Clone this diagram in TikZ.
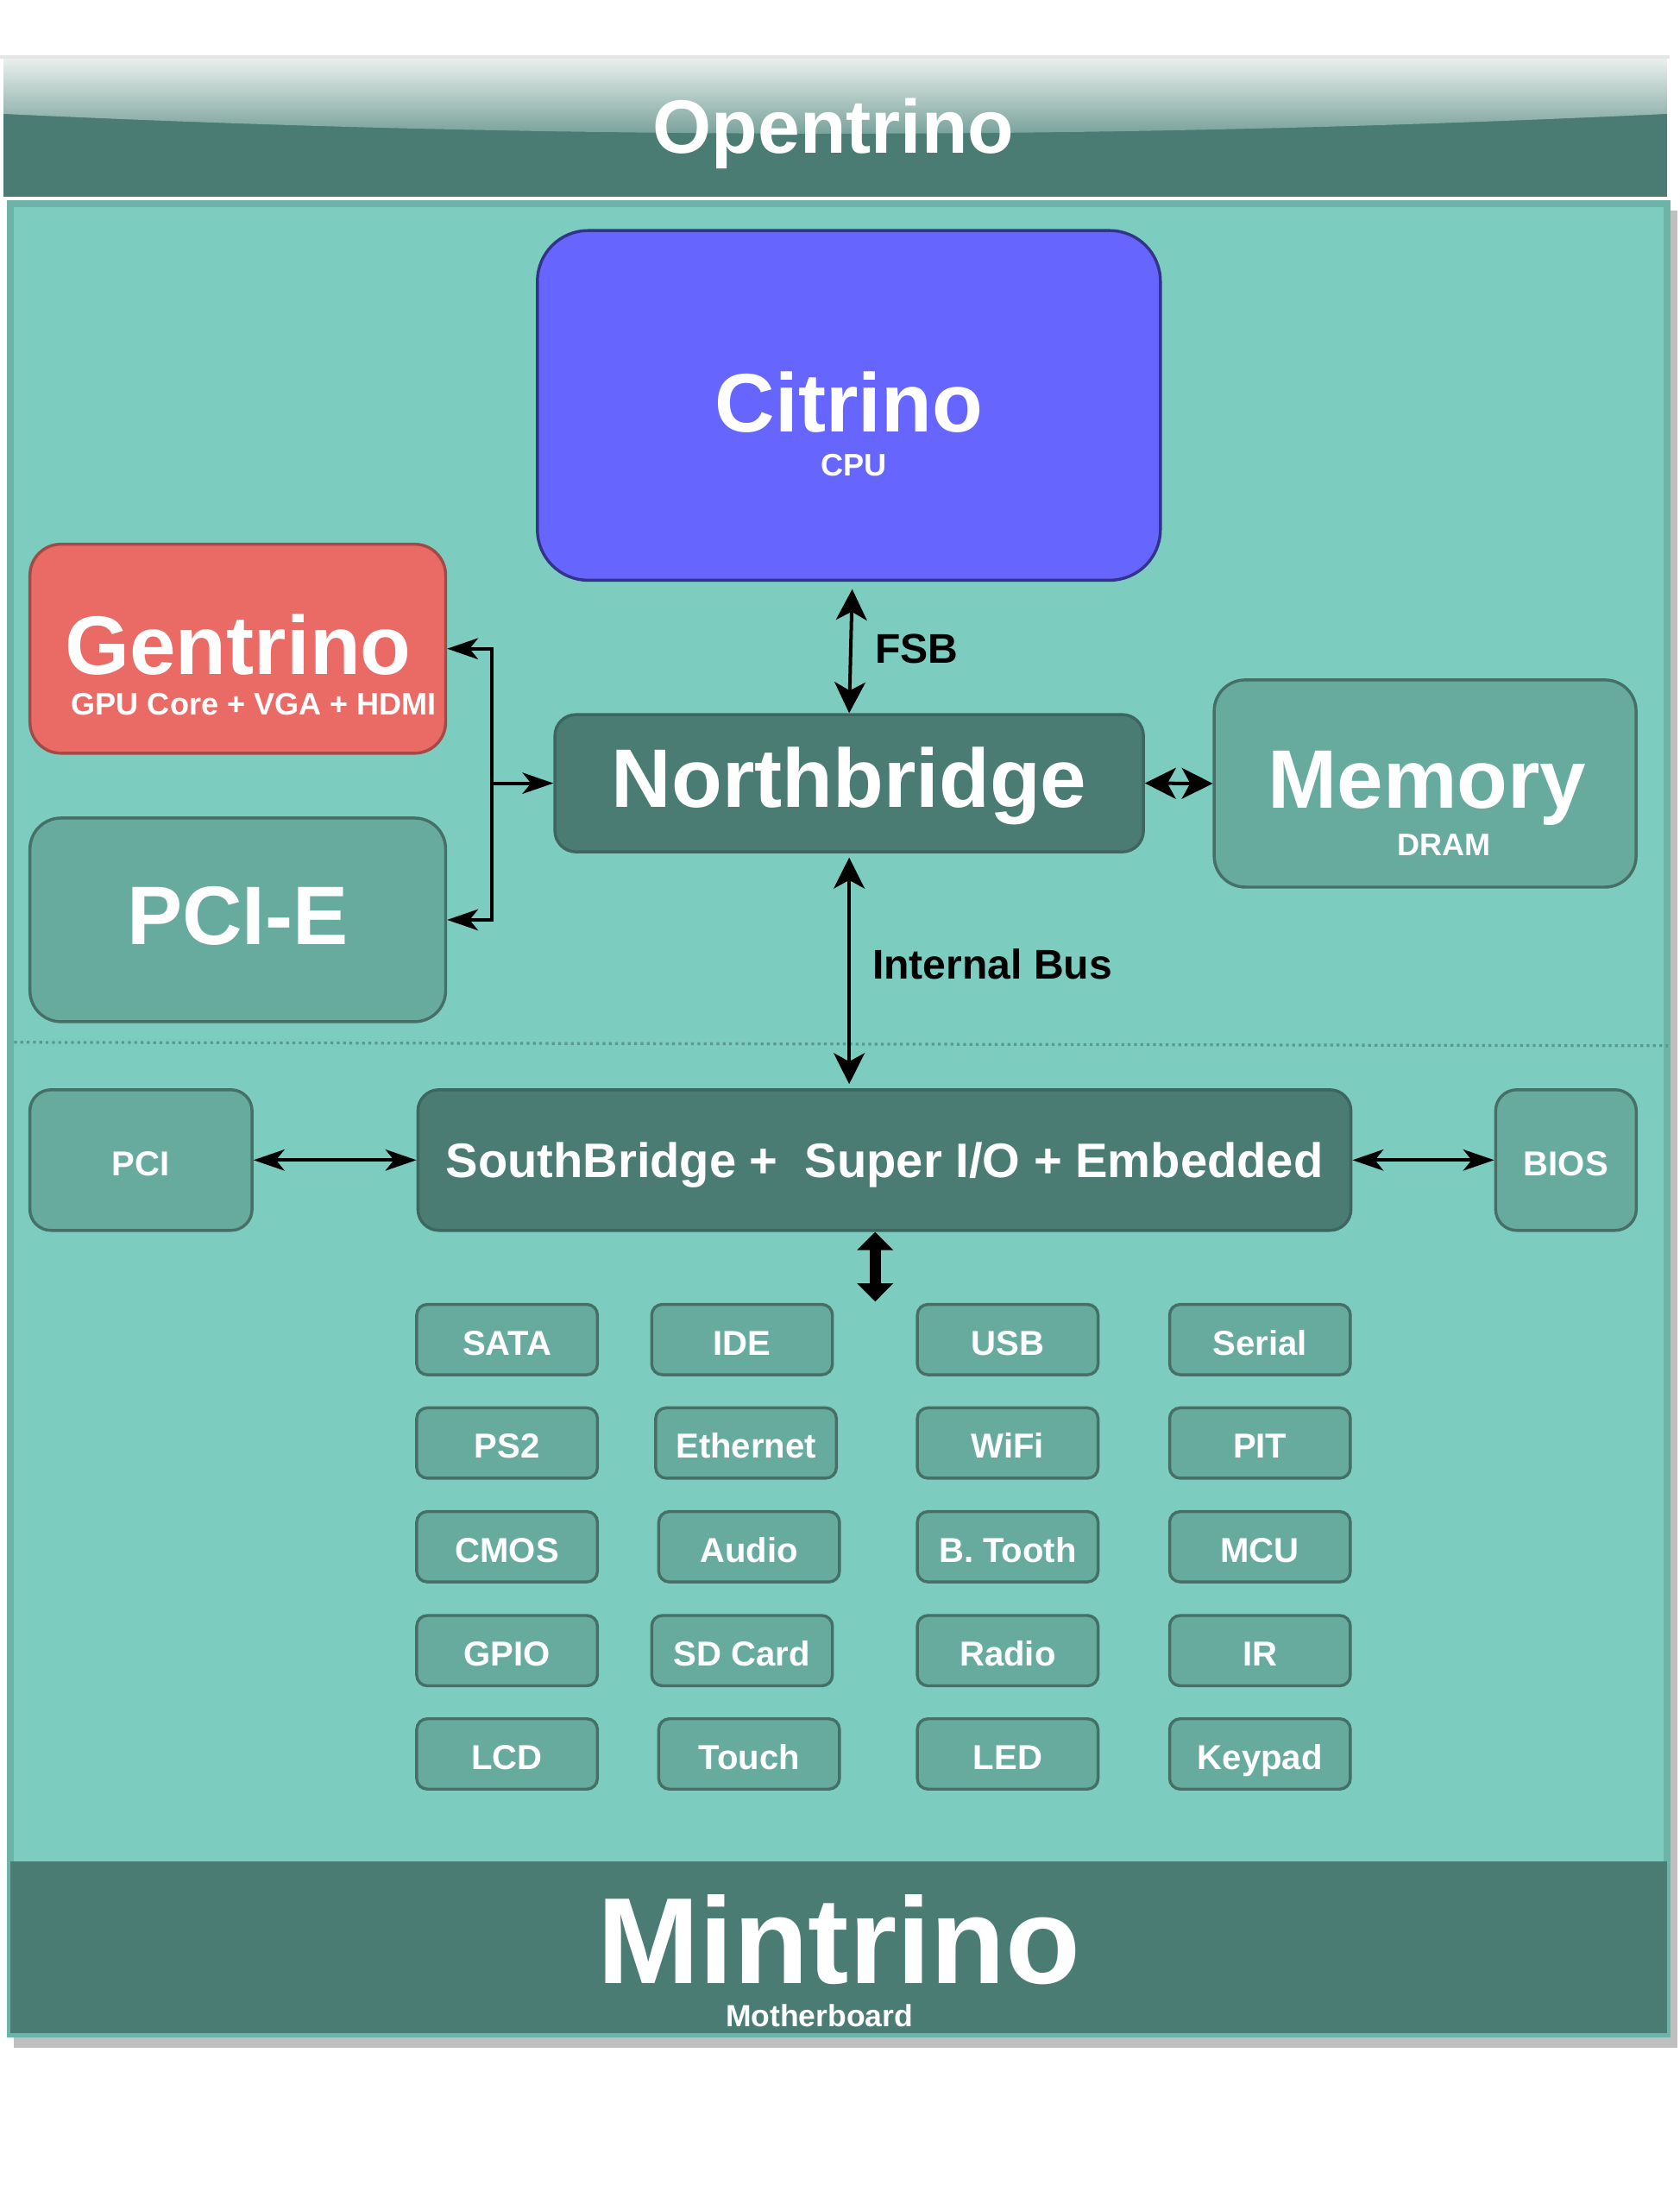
\documentclass[tikz,border=0pt]{standalone}
\usepackage{fontspec}
\setmainfont{Liberation Sans}
\usetikzlibrary{arrows.meta}
\definecolor{boardfill}{HTML}{7CCDBF}
\definecolor{boardline}{HTML}{6BB4A7}
\definecolor{darkteal}{HTML}{4A7C74}
\definecolor{darkline}{HTML}{3E6660}
\definecolor{midteal}{HTML}{67AB9F}
\definecolor{midline}{HTML}{466F68}
\definecolor{cpublue}{HTML}{6666FF}
\definecolor{cpuline}{HTML}{33338A}
\definecolor{gpured}{HTML}{EA6B66}
\definecolor{gpuline}{HTML}{A34A46}
\definecolor{glosstop}{HTML}{E9EFED}
\definecolor{glossbot}{HTML}{6F9C93}
\newcommand{\sizebf}[1]{\fontsize{#1}{#1}\selectfont\bfseries}

\begin{document}
\begin{tikzpicture}[x=0.01cm,y=-0.01cm,
  box/.style={rectangle, draw=midline, fill=midteal, line width=0.6pt, inner sep=0pt, text=white},
  hub/.style={box, draw=darkline, fill=darkteal},
  port/.style={box, rounded corners=0.075cm, minimum width=1.285cm, minimum height=0.5cm, font=\sizebf{7}, text height=6.2pt, text depth=0pt},
  txt/.style={inner sep=0pt, text=white, anchor=base},
  bus/.style={<->, >={Stealth[length=0.22cm, width=0.22cm, inset=0.06cm]}, line width=0.7pt},
  slimbus/.style={bus, >={Stealth[length=0.22cm, width=0.15cm, inset=0.06cm]}},
  fatbus/.style={<->, >={Triangle[length=0.13cm, width=0.25cm]}, line width=2.2pt}]
  \useasboundingbox (0,0) rectangle (1195,1568);
  \fill[black!25] (9.8,149.8) rectangle (1193.7,1456.6);
  \draw[boardline, fill=boardfill, line width=0.049cm] (7.35,144.95) rectangle (1186.35,1446.75);
  \fill[darkteal] (7.6,1324) rectangle (1186.3,1446.7);
  \fill[black!10] (0,39.3) rectangle (1188,41.8);
  \fill[darkteal] (2.5,41.8) rectangle (1186,140);
  \shade[top color=glosstop, bottom color=glossbot] (2.5,41.8) -- (1186,41.8) -- (1186,81) .. controls (790,99.7) and (398,99.7) .. (2.5,81) -- cycle;
  \draw[boardline!85!black, line width=0.02cm, dash pattern=on 0.02cm off 0.025cm] (10,741.5) -- (1187,744);

  \node[box, draw=cpuline, fill=cpublue, rounded corners=0.36cm, minimum width=4.43cm, minimum height=2.486cm] (cpu) at (604,288.4) {};
  \node[box, draw=gpuline, fill=gpured, rounded corners=0.22cm, minimum width=2.956cm, minimum height=1.486cm] (gentrino) at (169.2,461.5) {};
  \node[box, rounded corners=0.22cm, minimum width=2.956cm, minimum height=1.448cm, font=\sizebf{16.8}, text height=12pt, text depth=2.2pt] (pcie) at (169.2,654.4) {PCI-E};
  \node[hub, rounded corners=0.15cm, minimum width=4.185cm, minimum height=0.976cm, font=\sizebf{16.8}, text height=12pt, text depth=2.2pt] (nb) at (604.2,557.2) {Northbridge};
  \node[box, rounded corners=0.22cm, minimum width=3.0cm, minimum height=1.473cm] (memory) at (1014,557.4) {};
  \node[box, rounded corners=0.15cm, minimum width=1.58cm, minimum height=1cm, font=\sizebf{7}, text height=6.2pt, text depth=0pt] (pci) at (100.3,825.3) {PCI};
  \node[hub, rounded corners=0.15cm, minimum width=6.635cm, minimum height=1cm, font=\sizebf{9.8}, text height=7pt, text depth=0pt] (sb) at (629.3,825.3) {SouthBridge +\ \ Super I/O + Embedded};
  \node[box, rounded corners=0.15cm, minimum width=1.0cm, minimum height=1cm, font=\sizebf{7}, text height=6.2pt, text depth=0pt] (bios) at (1114.2,825.3) {BIOS};

  \foreach \lbl/\x/\y [count=\i] in {SATA/360.8/953, IDE/528/953, USB/717/953, Serial/896.5/953,
      PS2/360.8/1026.6, Ethernet/530.8/1026.6, WiFi/717/1026.6, PIT/896.5/1026.6,
      CMOS/360.8/1100.4, Audio/533/1100.4, B. Tooth/717/1100.4, MCU/896.5/1100.4,
      GPIO/360.8/1174.3, SD Card/528/1174.3, Radio/717/1174.3, IR/896.5/1174.3,
      LCD/360.8/1247.8, Touch/533/1247.8, LED/717/1247.8, Keypad/896.5/1247.8}
    \node[port] (port\i) at (\x,\y) {\lbl};

  \node[txt, font=\sizebf{15.3}] (boardtitle) at (593,109) {Opentrino};
  \node[txt, font=\sizebf{16.8}] (cputitle) at (604,307.5) {Citrino};
  \node[txt, font=\sizebf{6.3}] (cpusub) at (607.3,338.5) {CPU};
  \node[txt, font=\sizebf{16.8}] (gputitle) at (169.5,479.5) {Gentrino};
  \node[txt, font=\sizebf{6.3}] (gpusub) at (180.7,508.5) {GPU Core + VGA + HDMI};
  \node[txt, font=\sizebf{16.8}] (memtitle) at (1015.4,574.8) {Memory};
  \node[txt, font=\sizebf{6.3}] (memsub) at (1027.4,609) {DRAM};
  \node[txt, text=black, anchor=base west, font=\sizebf{8.4}] (fsblbl) at (622,472) {FSB};
  \node[txt, text=black, anchor=base west, font=\sizebf{8.4}] (buslbl) at (620,696.5) {Internal Bus};
  \node[txt, font=\sizebf{24.8}] (basetitle) at (597,1411) {Mintrino};
  \node[txt, font=\sizebf{6.2}] (basesub) at (583,1442) {Motherboard};

  \draw[bus, shorten <=0.053cm] ([xshift=0.025cm]cpu.south) -- (nb.north);
  \draw[bus, shorten <=0.03cm, shorten >=0.03cm] (nb.south) -- (nb.south |- sb.north);
  \draw[bus] (nb.east) -- (memory.west);
  \coordinate (split) at ([xshift=-0.44cm]nb.west);
  \draw[slimbus, ->] (split) |- (gentrino.east);
  \draw[slimbus, ->] (split) |- (pcie.east);
  \draw[slimbus, ->] (split) -- (nb.west);
  \draw[slimbus] (pci.east) -- (sb.west);
  \draw[slimbus] (sb.east) -- (bios.west);
  \coordinate (iohub) at (622.7,926);
  \draw[fatbus] (sb.south -| iohub) -- (iohub);
\end{tikzpicture}
\end{document}
